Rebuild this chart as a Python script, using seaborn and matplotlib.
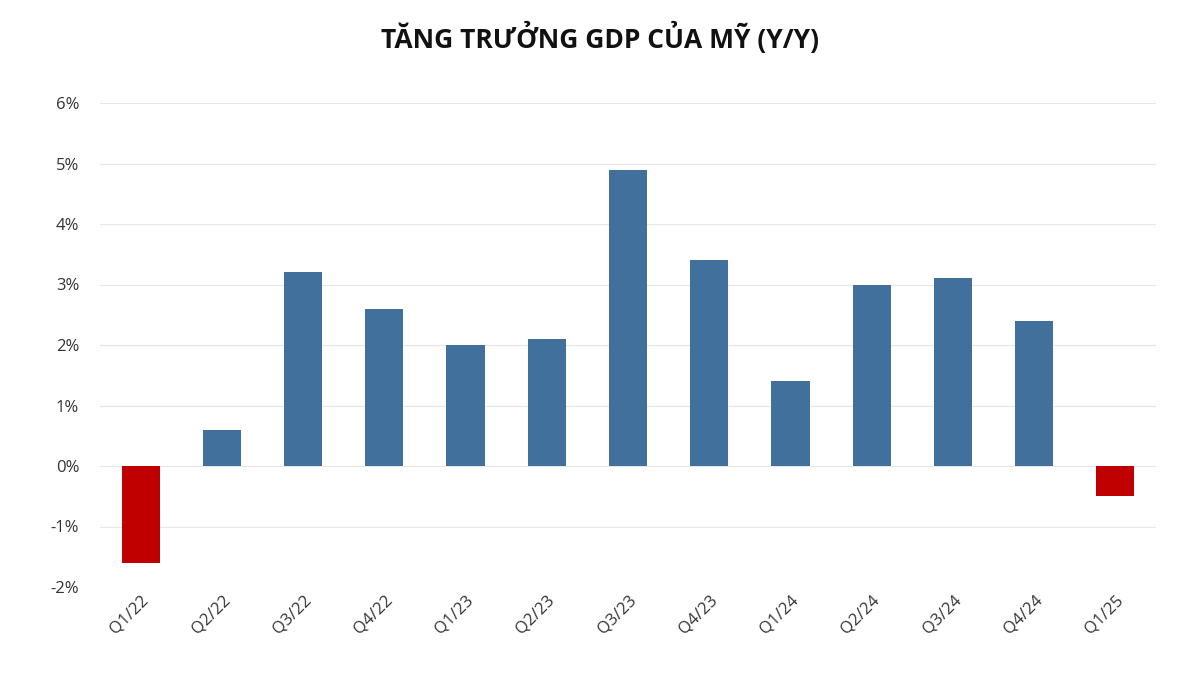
import matplotlib
matplotlib.use("Agg")
import matplotlib.pyplot as plt
import seaborn as sns
import pandas as pd
from matplotlib.ticker import FuncFormatter

quarters = ["Q1/22","Q2/22","Q3/22","Q4/22","Q1/23","Q2/23","Q3/23","Q4/23","Q1/24","Q2/24","Q3/24","Q4/24","Q1/25"]
growth = [-1.6,0.6,3.2,2.6,2.0,2.1,4.9,3.4,1.4,3.0,3.1,2.4,-0.5]
df = pd.DataFrame({"q": quarters, "g": growth})
colors = ["#C00000" if v < 0 else "#41709C" for v in growth]

plt.rcParams["font.family"] = "Open Sans"
fig = plt.figure(figsize=(12, 6.75), dpi=100)
ax = fig.add_axes([100/1200, 1-587/675, 1056/1200, (587-103)/675])
sns.barplot(data=df, x="q", y="g", hue="q", palette=colors, legend=False, width=0.47, ax=ax, saturation=1)
ax.set_xlim(-0.5, 12.5)
ax.set_ylim(-2, 6)
ax.set_yticks(range(-2, 7))
ax.yaxis.set_major_formatter(FuncFormatter(lambda v, p: f"{int(v)}%"))
ax.grid(axis="y", color="#E6E6E6", linewidth=0.8)
ax.set_axisbelow(True)
for s in ax.spines.values():
    s.set_visible(False)
ax.tick_params(length=0, labelsize=12, colors="#333333")
ax.tick_params(axis="y", pad=15)
for lab in ax.get_xticklabels():
    lab.set_rotation(45); lab.set_ha("right"); lab.set_rotation_mode("anchor")
ax.set_xlabel(""); ax.set_ylabel("")
fig.text(0.5, 1-38/675, "TĂNG TRƯỞNG GDP CỦA MỸ (Y/Y)", ha="center", va="center",
         fontsize=19, fontweight="bold", color="#111111")
fig.savefig("out.png", dpi=100, facecolor="white")
